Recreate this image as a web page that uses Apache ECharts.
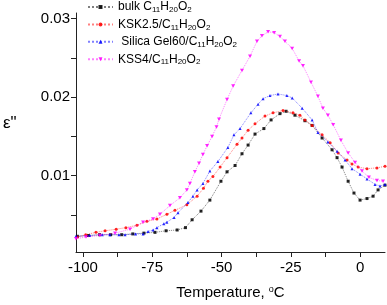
<!DOCTYPE html>
<html><head><meta charset="utf-8">
<script src="https://cdn.jsdelivr.net/npm/echarts@6/dist/echarts.min.js"></script>
<style>html,body{margin:0;padding:0;background:#fff}#c{width:387px;height:305px}</style>
</head><body><div id="c"></div>
<script>
// ---- data ----
const seriesNames = ['bulk C11H20O2', 'KSK2.5/C11H20O2', ' Silica Gel60/C11H20O2', 'KSS4/C11H20O2'];
const xTickLabels = [-100, -75, -50, -25, 0];
const yTickLabels = [0.01, 0.02, 0.03];

const tBulk = [-102, -98, -94, -90, -86, -82, -78, -74, -70, -66, -63, -60.6, -57.4, -54.2, -50.2, -48, -45.1, -42.6, -40.4, -37.9, -34.7, -32.1, -28.9, -26.7, -23.5, -19.9, -17.3, -13.7, -10.1, -8.3, -6.5, -4.3, -2.2, 0, 2.5, 4.7, 6.5, 9];
const vBulk = [0.0023, 0.0024, 0.0025, 0.0025, 0.0025, 0.0026, 0.0027, 0.0028, 0.0030, 0.0031, 0.0034, 0.0044, 0.0055, 0.0069, 0.0093, 0.0105, 0.0113, 0.0128, 0.0139, 0.0153, 0.0160, 0.0171, 0.0179, 0.0182, 0.0177, 0.0170, 0.0164, 0.0148, 0.0133, 0.0123, 0.0111, 0.0093, 0.0078, 0.0069, 0.0071, 0.0074, 0.0082, 0.0088];

const tKsk = [-102, -99, -95.3, -92, -88, -84.5, -80.5, -76.9, -73.3, -69.7, -66.8, -62.5, -58.8, -56.5, -54.9, -53.1, -50.5, -48, -44.4, -42.6, -40.4, -37.9, -34.3, -31.4, -27.8, -24.2, -21.7, -19.9, -17.3, -13.7, -10.8, -7.9, -4.7, -2.9, -0.7, 2.5, 6.1, 9];
const vKsk = [0.0022, 0.0025, 0.0028, 0.0030, 0.0032, 0.0034, 0.0037, 0.0042, 0.0045, 0.0051, 0.0056, 0.0063, 0.0074, 0.0084, 0.0093, 0.0099, 0.0111, 0.0123, 0.0140, 0.0148, 0.0158, 0.0166, 0.0176, 0.0180, 0.0183, 0.0180, 0.0177, 0.0171, 0.0164, 0.0152, 0.0142, 0.0129, 0.0120, 0.0115, 0.0111, 0.0109, 0.0110, 0.0112];

const tSilica = [-102.5, -97.5, -93, -90.3, -87, -84.8, -81, -78.3, -76.5, -74.7, -73.3, -70.8, -69.7, -67.1, -65.7, -62.1, -60.3, -58.8, -56.7, -54.2, -51.3, -47.7, -45.5, -43.3, -39.4, -36.8, -35, -32.5, -29.6, -26.4, -24.5, -20.9, -17.3, -15.2, -11.6, -8.3, -5.4, -2.9, 0, 2.5, 5.4, 7.2, 9];
const vSilica = [0.0023, 0.0024, 0.0025, 0.0025, 0.0025, 0.0025, 0.0026, 0.0026, 0.0029, 0.0031, 0.0034, 0.0039, 0.0041, 0.0047, 0.0053, 0.0066, 0.0074, 0.0082, 0.0090, 0.0106, 0.0118, 0.0136, 0.0152, 0.0160, 0.0180, 0.0191, 0.0198, 0.0202, 0.0204, 0.0202, 0.0199, 0.0186, 0.0171, 0.0155, 0.0143, 0.0131, 0.0120, 0.0109, 0.0102, 0.0096, 0.0089, 0.0087, 0.0089];

const tKss = [-102.5, -98.9, -93.9, -88.4, -83, -78.3, -74.7, -72.2, -68.6, -65, -62.5, -61.4, -59.6, -58.1, -56.7, -55.2, -53.4, -51.8, -50.9, -48, -45.8, -42.6, -39.7, -37.2, -35.4, -33.2, -31, -28.9, -27.1, -24.5, -22, -20.6, -17.7, -15.2, -13.4, -11.6, -9.7, -6.9, -4.3, -1.8, 0.7, 3.2, 6.1, 8.3];
const vKss = [0.0020, 0.0022, 0.0024, 0.0027, 0.0032, 0.0041, 0.0045, 0.0051, 0.0062, 0.0072, 0.0082, 0.0090, 0.0105, 0.0116, 0.0127, 0.0138, 0.0150, 0.0162, 0.0172, 0.0197, 0.0214, 0.0234, 0.0252, 0.0271, 0.0278, 0.0283, 0.0282, 0.0277, 0.0271, 0.0262, 0.0246, 0.0240, 0.0219, 0.0201, 0.0186, 0.0177, 0.0165, 0.0145, 0.0129, 0.0117, 0.0106, 0.0098, 0.0094, 0.0093];

const seriesColors = ['#000000', '#ff0000', '#0000ff', '#ff00ff'];
const seriesSymbols = ['rect', 'circle', 'triangle', 'path://M0,0 L10,0 L5,9 Z'];

// ---- build ----
const zip = (t, v) => t.map((x, i) => [x, v[i]]);
const allT = [tBulk, tKsk, tSilica, tKss];
const allV = [vBulk, vKsk, vSilica, vKss];
const FONT = '"Liberation Sans", Arial, sans-serif';

function richName(n) {
  return n.replace('C11H20O2', 'C{s|11}H{s|20}O{s|2}');
}

const chart = echarts.init(document.getElementById('c'), null, { renderer: 'canvas' });
chart.setOption({
  animation: false,
  backgroundColor: '#fff',
  textStyle: { fontFamily: FONT },
  grid: { left: 76, right: 2, top: 13, bottom: 44 },
  legend: {
    orient: 'vertical', left: 87, top: 0, padding: 0,
    itemWidth: 25, itemHeight: 5, itemGap: 3.4,
    data: seriesNames,
    formatter: richName,
    textStyle: {
      fontFamily: FONT, fontSize: 12, color: '#000', lineHeight: 14,
      rich: {
        s: { fontSize: 8, fontFamily: FONT, color: '#000', verticalAlign: 'bottom', lineHeight: 14 }
      }
    }
  },
  xAxis: {
    type: 'value', min: -102.5, max: 9,
    axisLine: { onZero: false, lineStyle: { color: '#222', width: 1 } },
    splitLine: { show: false },
    axisTick: { length: 5, lineStyle: { color: '#222' }, customValues: [-100, -87.5, -75, -62.5, -50, -37.5, -25, -12.5, 0] },
    axisLabel: { customValues: xTickLabels, fontSize: 15, color: '#000', margin: 8, fontFamily: FONT },
    name: 'Temperature, {sup|o}C',
    nameLocation: 'middle', nameGap: 33,
    nameTextStyle: {
      fontSize: 15, color: '#000', fontFamily: FONT,
      rich: { sup: { fontSize: 9, verticalAlign: 'top', lineHeight: 14, color: '#000', fontFamily: FONT } }
    }
  },
  yAxis: {
    type: 'value', min: 0.0003, max: 0.0307,
    axisLine: { show: true, onZero: false, lineStyle: { color: '#222', width: 1 } },
    splitLine: { show: false },
    axisTick: { show: true, length: 5, lineStyle: { color: '#222' }, customValues: [0.005, 0.01, 0.015, 0.02, 0.025, 0.03] },
    axisLabel: { customValues: yTickLabels, fontSize: 15, color: '#000', margin: 6, fontFamily: FONT,
      formatter: v => v.toFixed(2) }
  },
  graphic: [{
    type: 'text', left: 3, top: 115,
    style: { text: 'ε"', fontSize: 17, fill: '#000', fontFamily: FONT }
  }],
  series: seriesNames.map((n, i) => ({
    name: n, type: 'line',
    data: zip(allT[i], allV[i]),
    symbol: seriesSymbols[i], symbolSize: i === 3 ? [4, 3.5] : 3,
    itemStyle: { color: seriesColors[i], opacity: 0.85 },
    lineStyle: { color: seriesColors[i], width: 1, type: 'dotted', opacity: 0.5 },
    z: 2 + i
  }))
});
</script></body></html>
